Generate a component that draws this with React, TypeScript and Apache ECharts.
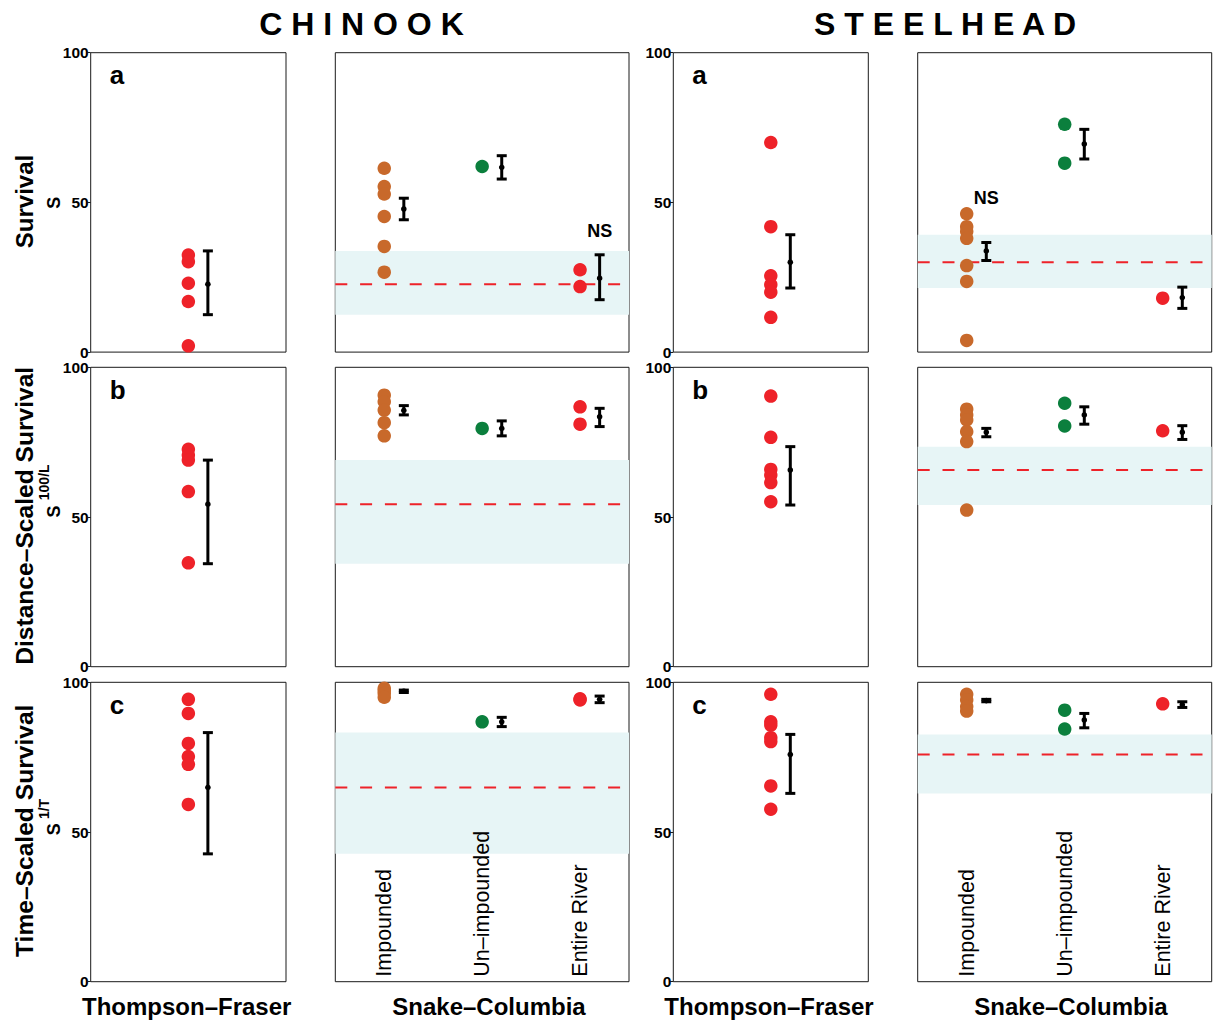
import React, { useEffect, useRef } from 'react';
import * as echarts from 'echarts';

// ---------- labels ----------
const speciesTitles = ['C H I N O O K', 'S T E E L H E A D'];
const rowLetters = ['a', 'b', 'c'];
const rowTitles = ['Survival', 'Distance–Scaled Survival', 'Time–Scaled Survival'];
const rowSuperscripts = ['', '100/L', '1/T'];
const scCategories = ['Impounded', 'Un–impounded', 'Entire River'];
const bottomLabels = ['Thompson–Fraser', 'Snake–Columbia', 'Thompson–Fraser', 'Snake–Columbia'];
const yTickInterval = 50;

// ---------- data (percent) ----------
// Error bars: [mean, lower, upper]
// Chinook, Thompson–Fraser
const tfChinookA = [32.4, 30.2, 23.0, 16.9, 2.1];
const tfChinookErrA = [22.7, 12.5, 33.8];
const tfChinookB = [72.6, 70.7, 69.0, 58.5, 34.7];
const tfChinookErrB = [54.3, 34.4, 69.0];
const tfChinookC = [94.3, 89.6, 79.6, 75.2, 72.6, 59.2];
const tfChinookErrC = [64.9, 42.7, 83.2];

// Chinook, Snake–Columbia
const scChinookImpA = [61.4, 55.3, 52.8, 45.3, 35.3, 26.7];
const scChinookImpErrA = [47.8, 44.2, 51.4];
const scChinookUnA = [62.0];
const scChinookUnErrA = [61.7, 57.8, 65.6];
const scChinookEntA = [27.5, 21.9];
const scChinookEntErrA = [24.7, 17.5, 32.5];

const scChinookImpB = [90.7, 88.5, 85.7, 81.5, 77.1];
const scChinookImpErrB = [85.6, 84.1, 87.2];
const scChinookUnB = [79.6];
const scChinookUnErrB = [79.6, 77.1, 82.1];
const scChinookEntB = [86.8, 81.0];
const scChinookEntErrB = [83.5, 80.2, 86.3];

const scChinookImpC = [98.0, 97.2, 96.3, 95.0];
const scChinookImpErrC = [97.0, 96.6, 97.4];
const scChinookUnC = [86.8];
const scChinookUnErrC = [86.8, 85.2, 88.3];
const scChinookEntC = [94.5, 94.1];
const scChinookEntErrC = [94.3, 93.2, 95.4];

// Steelhead, Thompson–Fraser
const tfSteelA = [70.0, 41.9, 25.5, 22.5, 20.0, 11.6];
const tfSteelErrA = [30.0, 21.4, 39.2];
const tfSteelB = [90.4, 76.6, 65.9, 64.0, 61.5, 55.1];
const tfSteelErrB = [65.7, 54.0, 73.5];
const tfSteelC = [96.0, 86.8, 85.7, 81.5, 80.2, 65.4, 57.6];
const tfSteelErrC = [75.9, 62.9, 82.6];

// Steelhead, Snake–Columbia
const scSteelImpA = [46.2, 41.9, 40.3, 38.0, 28.9, 23.6, 3.9];
const scSteelImpErrA = [33.8, 30.6, 36.6];
const scSteelUnA = [76.1, 63.1];
const scSteelUnErrA = [69.5, 64.5, 74.4];
const scSteelEntA = [18.0];
const scSteelEntErrA = [18.2, 14.6, 21.7];

const scSteelImpB = [86.0, 84.1, 82.4, 78.5, 75.2, 52.3];
const scSteelImpErrB = [78.3, 76.8, 79.6];
const scSteelUnB = [88.0, 80.4];
const scSteelUnErrB = [84.1, 81.0, 86.8];
const scSteelEntB = [78.8];
const scSteelEntErrB = [78.3, 75.9, 80.5];

const scSteelImpC = [96.0, 94.1, 91.9, 90.4];
const scSteelImpErrC = [93.9, 93.5, 94.3];
const scSteelUnC = [90.7, 84.4];
const scSteelUnErrC = [87.4, 84.8, 89.6];
const scSteelEntC = [92.8];
const scSteelEntErrC = [92.5, 91.6, 93.5];

// "NS" annotations: [panel row, species index, x, y]
const nsNotes = [
  [0, 0, 2.7, 40.5],
  [0, 1, 0.7, 51.6],
];
const nsText = 'NS';

// ---------- assembly ----------
const tfPoints = [
  [tfChinookA, tfChinookB, tfChinookC],
  [tfSteelA, tfSteelB, tfSteelC],
];
const tfErr = [
  [tfChinookErrA, tfChinookErrB, tfChinookErrC],
  [tfSteelErrA, tfSteelErrB, tfSteelErrC],
];
const scPoints = [
  [
    [scChinookImpA, scChinookUnA, scChinookEntA],
    [scChinookImpB, scChinookUnB, scChinookEntB],
    [scChinookImpC, scChinookUnC, scChinookEntC],
  ],
  [
    [scSteelImpA, scSteelUnA, scSteelEntA],
    [scSteelImpB, scSteelUnB, scSteelEntB],
    [scSteelImpC, scSteelUnC, scSteelEntC],
  ],
];
const scErr = [
  [
    [scChinookImpErrA, scChinookUnErrA, scChinookEntErrA],
    [scChinookImpErrB, scChinookUnErrB, scChinookEntErrB],
    [scChinookImpErrC, scChinookUnErrC, scChinookEntErrC],
  ],
  [
    [scSteelImpErrA, scSteelUnErrA, scSteelEntErrA],
    [scSteelImpErrB, scSteelUnErrB, scSteelEntErrB],
    [scSteelImpErrC, scSteelUnErrC, scSteelEntErrC],
  ],
];

// ---------- layout / style ----------
const FONT = "'Liberation Sans', Arial, Helvetica, sans-serif";
const COL_LEFT = [90.7, 335.3, 673.3, 917.7];
const COL_WIDTH = [195.3, 293.7, 195, 294];
const ROW_TOP = [52.7, 367.3, 682.3];
const ROW_HEIGHT = 299.4;
const RED = '#EE2229';
const ORANGE = '#C8692B';
const GREEN = '#0B7F3D';
const BAND = '#E7F5F6';
const GROUP_COLORS = [ORANGE, GREEN, RED];
const TF_X = 1;
const SC_X = [0.5, 1.5, 2.5];
const ERR_OFFSET = 0.2;

function errRender(params: any, api: any) {
  const x = api.value(0);
  const pm = api.coord([x, api.value(1)]);
  const pl = api.coord([x, api.value(2)]);
  const ph = api.coord([x, api.value(3)]);
  const hw = 5;
  const st = { stroke: '#000', lineWidth: 3 };
  return {
    type: 'group',
    children: [
      { type: 'line', shape: { x1: pl[0], y1: pl[1], x2: ph[0], y2: ph[1] }, style: st },
      { type: 'line', shape: { x1: pl[0] - hw, y1: pl[1], x2: pl[0] + hw, y2: pl[1] }, style: st },
      { type: 'line', shape: { x1: ph[0] - hw, y1: ph[1], x2: ph[0] + hw, y2: ph[1] }, style: st },
      { type: 'circle', shape: { cx: pm[0], cy: pm[1], r: 2.8 }, style: { fill: '#000' } },
    ],
  };
}

function bandRender(params: any, api: any) {
  const cs = params.coordSys;
  const ym = api.coord([0, api.value(1)])[1];
  const yl = api.coord([0, api.value(2)])[1];
  const yh = api.coord([0, api.value(3)])[1];
  return {
    type: 'group',
    children: [
      { type: 'rect', shape: { x: cs.x, y: yh, width: cs.width, height: yl - yh }, style: { fill: BAND } },
      {
        type: 'line',
        shape: { x1: cs.x, y1: ym, x2: cs.x + cs.width, y2: ym },
        style: { stroke: RED, lineWidth: 2, lineDash: [12, 12.8] },
      },
    ],
  };
}

function nsRender(params: any, api: any) {
  const p = api.coord([api.value(0), api.value(1)]);
  return {
    type: 'text',
    x: p[0],
    y: p[1],
    style: {
      text: nsText,
      fontSize: 18,
      fontWeight: 'bold',
      fontFamily: FONT,
      fill: '#000',
      align: 'center',
      verticalAlign: 'middle',
    },
  };
}

function catFormatter(v: number) {
  const i = Math.round(v - 0.5);
  if (Math.abs(v - 0.5 - i) < 1e-6 && i >= 0 && i < scCategories.length) return scCategories[i];
  return '';
}

function buildOption() {
  const grid: any[] = [];
  const xAxis: any[] = [];
  const yAxis: any[] = [];
  const series: any[] = [];

  for (let r = 0; r < 3; r++) {
    for (let c = 0; c < 4; c++) {
      const idx = r * 4 + c;
      const sp = Math.floor(c / 2);
      const isTF = c % 2 === 0;
      grid.push({
        left: COL_LEFT[c],
        top: ROW_TOP[r],
        width: COL_WIDTH[c],
        height: ROW_HEIGHT,
        show: true,
        borderColor: '#1a1a1a',
        borderWidth: 1,
        backgroundColor: 'transparent',
      });
      xAxis.push({
        gridIndex: idx,
        type: 'value',
        min: 0,
        max: isTF ? 2 : 3,
        interval: 0.5,
        z: 10,
        axisLine: { show: false },
        axisTick: { show: false },
        splitLine: { show: false },
        axisLabel: {
          show: r === 2 && !isTF,
          inside: true,
          rotate: 90,
          margin: 5,
          overflow: 'none',
          formatter: catFormatter,
          fontSize: 21.5,
          color: '#000',
          fontFamily: FONT,
        },
      });
      yAxis.push({
        gridIndex: idx,
        type: 'value',
        min: 0,
        max: 100,
        interval: yTickInterval,
        axisLine: { show: false },
        axisTick: { show: isTF, length: 3, lineStyle: { color: '#1a1a1a', width: 1 } },
        axisLabel: {
          show: isTF,
          margin: 2,
          fontSize: 15.5,
          fontWeight: 'bold',
          color: '#000',
          fontFamily: FONT,
        },
        splitLine: { show: false },
      });

      if (isTF) {
        series.push({
          type: 'scatter',
          xAxisIndex: idx,
          yAxisIndex: idx,
          symbolSize: 13.5,
          itemStyle: { color: RED, opacity: 1 },
          z: 3,
          data: tfPoints[sp][r].map((v) => [TF_X, v]),
        });
        const e = tfErr[sp][r];
        series.push({
          type: 'custom',
          xAxisIndex: idx,
          yAxisIndex: idx,
          z: 4,
          renderItem: errRender,
          encode: { x: 0, y: [1, 2, 3] },
          data: [[TF_X + ERR_OFFSET, e[0], e[1], e[2]]],
        });
      } else {
        const be = tfErr[sp][r];
        series.push({
          type: 'custom',
          xAxisIndex: idx,
          yAxisIndex: idx,
          z: 1,
          renderItem: bandRender,
          encode: { x: 0, y: [1, 2, 3] },
          data: [[0, be[0], be[1], be[2]]],
        });
        for (let g = 0; g < 3; g++) {
          series.push({
            type: 'scatter',
            xAxisIndex: idx,
            yAxisIndex: idx,
            symbolSize: 13.5,
            itemStyle: { color: GROUP_COLORS[g], opacity: 1 },
            z: 3,
            data: scPoints[sp][r][g].map((v) => [SC_X[g], v]),
          });
          const e = scErr[sp][r][g];
          series.push({
            type: 'custom',
            xAxisIndex: idx,
            yAxisIndex: idx,
            z: 4,
            renderItem: errRender,
            encode: { x: 0, y: [1, 2, 3] },
            data: [[SC_X[g] + ERR_OFFSET, e[0], e[1], e[2]]],
          });
        }
        const notes = nsNotes.filter((n) => n[0] === r && n[1] === sp);
        if (notes.length) {
          series.push({
            type: 'custom',
            xAxisIndex: idx,
            yAxisIndex: idx,
            z: 5,
            renderItem: nsRender,
            encode: { x: 0, y: 1 },
            data: notes.map((n) => [n[2], n[3]]),
          });
        }
      }
    }
  }

  const graphic: any[] = [];
  const txt = (text: string, x: number, y: number, size: number, opts: any = {}) => ({
    type: 'text',
    x,
    y,
    rotation: opts.rotation || 0,
    style: {
      text,
      fontSize: size,
      fontWeight: opts.weight || 'bold',
      fontFamily: FONT,
      fill: '#000',
      align: opts.align || 'center',
      verticalAlign: 'middle',
    },
  });

  graphic.push(txt(speciesTitles[0], 361.5, 24, 32));
  graphic.push(txt(speciesTitles[1], 945, 24, 32));

  const titleCY = [201.5, 515.8, 830.8];
  const sCY = [202.7, 511.5, 829.2];
  const supCY = [0, 482.3, 809];
  for (let r = 0; r < 3; r++) {
    graphic.push(txt(rowTitles[r], 24.5, titleCY[r], r === 0 ? 24 : 24.6, { rotation: Math.PI / 2 }));
    graphic.push(txt('S', 53.7, sCY[r], 18, { rotation: Math.PI / 2 }));
    if (rowSuperscripts[r]) {
      graphic.push(txt(rowSuperscripts[r], 44, supCY[r], 14, { rotation: Math.PI / 2 }));
    }
    for (const c of [0, 2]) {
      graphic.push(txt(rowLetters[r], COL_LEFT[c] + 19, ROW_TOP[r] + 22.5, 26, { align: 'left' }));
    }
  }
  const bottomCX = [186.7, 489, 769, 1071];
  for (let c = 0; c < 4; c++) {
    graphic.push(txt(bottomLabels[c], bottomCX[c], 1006, 24));
  }

  return {
    animation: false,
    backgroundColor: '#fff',
    textStyle: { fontFamily: FONT },
    grid,
    xAxis,
    yAxis,
    series,
    graphic,
  };
}

export default function App() {
  const ref = useRef<HTMLDivElement>(null);
  useEffect(() => {
    if (!ref.current) return;
    const chart = echarts.init(ref.current, undefined, { renderer: 'svg' });
    chart.setOption(buildOption() as any);
    return () => chart.dispose();
  }, []);
  return (
    <div
      ref={ref}
      style={{ position: 'fixed', left: 0, top: 0, width: 1214, height: 1021, background: '#fff' }}
    />
  );
}
